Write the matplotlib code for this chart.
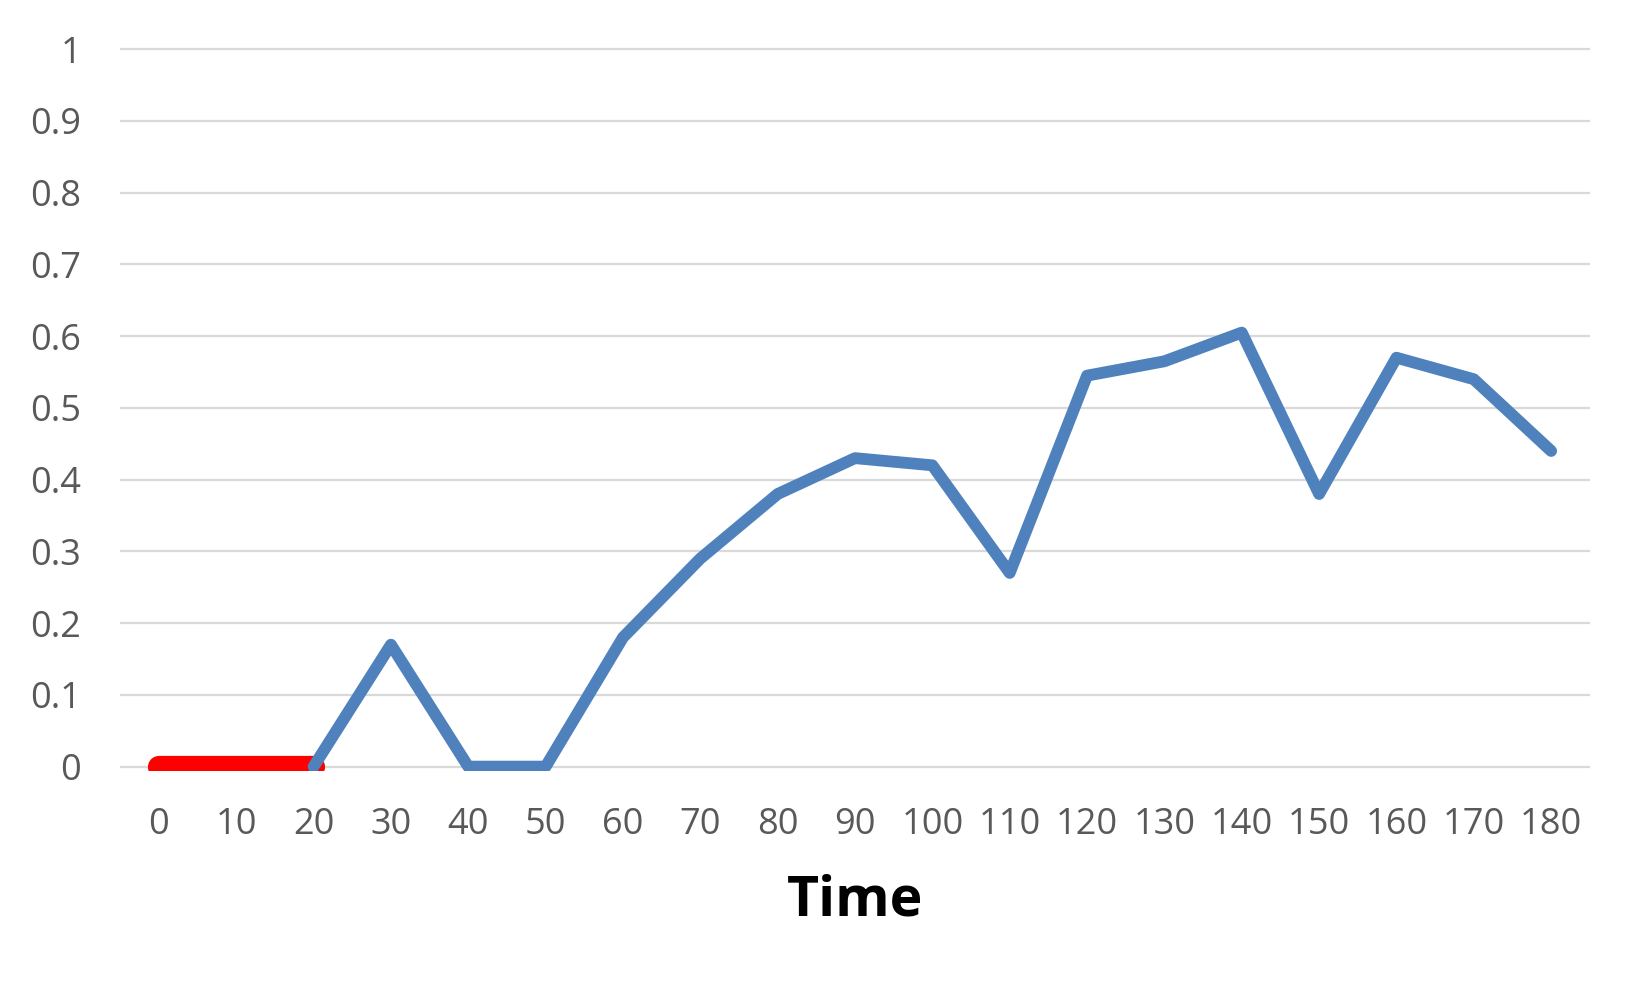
import numpy as np
import matplotlib
matplotlib.use("Agg")
import matplotlib.pyplot as plt

# Category labels on the x axis (time)
categorias = ["0", "10", "20", "30", "40", "50", "60", "70", "80", "90",
              "100", "110", "120", "130", "140", "150", "160", "170", "180"]

# Blue series (starts at time 20)
serieAzul = [np.nan, np.nan, 0, 0.17, 0, 0, 0.18, 0.29, 0.38, 0.43,
             0.42, 0.27, 0.545, 0.565, 0.605, 0.38, 0.57, 0.54, 0.44]

# Red series (only first three points)
serieRoja = [0, 0, 0, np.nan, np.nan, np.nan, np.nan, np.nan, np.nan, np.nan,
             np.nan, np.nan, np.nan, np.nan, np.nan, np.nan, np.nan, np.nan, np.nan]

yTicks = [0, 0.1, 0.2, 0.3, 0.4, 0.5, 0.6, 0.7, 0.8, 0.9, 1]
yEtiquetas = ["0", "0.1", "0.2", "0.3", "0.4", "0.5", "0.6", "0.7", "0.8", "0.9", "1"]

plt.rcParams["font.family"] = ["Open Sans", "DejaVu Sans"]

fig = plt.figure(figsize=(16.4, 9.94), dpi=100)
ax = fig.add_axes([0.0733, 0.2247, 0.8961, 0.733])

x = np.arange(len(categorias))

# Horizontal gridlines
for v in yTicks:
    ax.axhline(v, color="#d9d9d9", linewidth=1.6, zorder=1)

ax.plot(x, serieRoja, color="#ff0000", linewidth=16,
        solid_capstyle="round", solid_joinstyle="round", zorder=2)
ax.plot(x, serieAzul, color="#4f81bd", linewidth=8.5,
        solid_capstyle="round", solid_joinstyle="round", zorder=3)

ax.set_xlim(-0.5, len(categorias) - 0.5)
ax.set_ylim(-0.0056, 1.01)

for lado in ["top", "right", "bottom", "left"]:
    ax.spines[lado].set_visible(False)

ax.set_xticks(x)
ax.set_xticklabels(categorias)
ax.set_yticks(yTicks)
ax.set_yticklabels(yEtiquetas)
ax.tick_params(axis="both", length=0, labelsize=26, labelcolor="#595959")
ax.tick_params(axis="x", pad=26)
ax.tick_params(axis="y", pad=28)

ax.set_xlabel("Time", fontsize=40, fontweight="bold", color="black", labelpad=22)

fig.savefig("out.png", dpi=100)
